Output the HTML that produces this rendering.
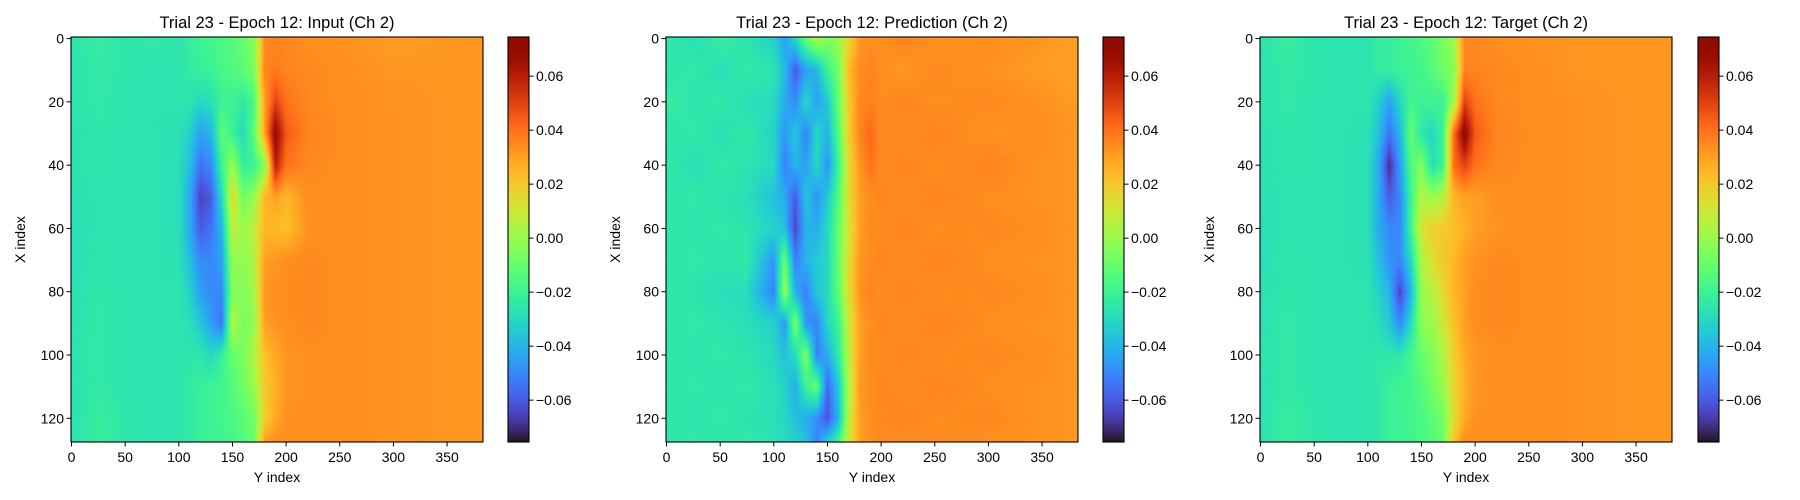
<!DOCTYPE html>
<html><head><meta charset="utf-8">
<style>
html,body{margin:0;padding:0;background:#fff;}
#wrap{position:relative;width:1800px;height:500px;overflow:hidden;font-family:"Liberation Sans","DejaVu Sans",sans-serif;}
canvas{position:absolute;}
svg{position:absolute;left:0;top:0;}
</style></head>
<body>
<div id="wrap">
<svg id="svg" width="1800" height="500"></svg>
</div>
<script>
// ---- data ----
const yCols = [0,25,50,75,100,110,120,130,140,150,160,170,180,190,200,220,250,300,350,383];
const xRows = [0,10,20,30,40,50,60,70,80,90,100,110,120,127];
const panelTitles = ["Trial 23 - Epoch 12: Input (Ch 2)","Trial 23 - Epoch 12: Prediction (Ch 2)","Trial 23 - Epoch 12: Target (Ch 2)"];
const xTicks = [0,50,100,150,200,250,300,350];
const yTicks = [0,20,40,60,80,100,120];
const cbTicks = [-0.06,-0.04,-0.02,0.00,0.02,0.04,0.06];
const cbTickLabels = ["\u22120.06","\u22120.04","\u22120.02","0.00","0.02","0.04","0.06"];
const vmin = -0.0755, vmax = 0.0745;
const inputGrid = [
[-.026,-.022,-.026,-.024,-.026,-.022,-.02,-.018,-.016,-.014,-.01,-.004,.034,.036,.035,.034,.033,.031,.032,.032],
[-.026,-.024,-.025,-.026,-.026,-.023,-.022,-.02,-.017,-.015,-.012,-.006,.036,.038,.036,.035,.034,.032,.032,.032],
[-.026,-.024,-.026,-.026,-.026,-.026,-.03,-.028,-.02,-.02,-.024,-.016,.03,.05,.04,.035,.034,.033,.032,.032],
[-.027,-.025,-.026,-.026,-.027,-.032,-.045,-.04,-.012,-.02,-.03,-.012,.03,.07,.045,.036,.034,.033,.032,.032],
[-.027,-.025,-.026,-.026,-.028,-.037,-.055,-.05,-.02,0,-.022,-.02,-.005,.06,.04,.035,.034,.033,.032,.032],
[-.027,-.026,-.026,-.026,-.028,-.042,-.065,-.06,-.03,.015,-.008,-.002,.025,.03,.025,.034,.034,.033,.032,.032],
[-.028,-.026,-.026,-.026,-.028,-.042,-.06,-.055,-.04,.008,0,.008,.024,.024,.022,.033,.034,.033,.032,.032],
[-.028,-.025,-.026,-.026,-.027,-.037,-.05,-.05,-.045,0,-.002,.004,.03,.032,.034,.035,.034,.033,.032,.032],
[-.027,-.025,-.026,-.026,-.026,-.032,-.045,-.05,-.05,-.004,-.004,.002,.032,.034,.034,.035,.034,.033,.032,.032],
[-.027,-.024,-.026,-.026,-.026,-.028,-.035,-.045,-.055,.005,-.006,-.002,.03,.033,.034,.035,.034,.033,.032,.032],
[-.026,-.024,-.026,-.026,-.026,-.025,-.025,-.03,-.022,-.01,-.006,.005,.022,.028,.032,.034,.034,.033,.032,.032],
[-.027,-.024,-.026,-.026,-.026,-.024,-.021,-.02,-.018,-.014,-.008,.000,.02,.026,.032,.034,.034,.033,.032,.032],
[-.027,-.022,-.025,-.026,-.026,-.024,-.021,-.02,-.018,-.016,-.012,-.008,.018,.028,.033,.034,.034,.033,.032,.032],
[-.027,-.022,-.025,-.026,-.026,-.024,-.021,-.02,-.019,-.017,-.014,-.01,.03,.034,.034,.034,.034,.033,.032,.032]];
const predGrid = [
[-.024,-.028,-.022,-.026,-.032,-.045,-.03,-.01,.005,-.005,.0,.015,.032,.034,.033,.036,.033,.034,.032,.03],
[-.026,-.024,-.028,-.024,-.026,-.038,-.06,-.045,-.04,-.02,-.008,.025,.034,.036,.034,.032,.035,.033,.031,.03],
[-.022,-.026,-.024,-.028,-.029,-.042,-.05,-.03,-.045,-.035,-.01,.02,.035,.037,.034,.036,.034,.035,.033,.031],
[-.026,-.024,-.028,-.024,-.032,-.047,-.035,-.052,-.03,-.04,-.015,.02,.036,.042,.035,.034,.036,.033,.034,.032],
[-.024,-.028,-.024,-.026,-.03,-.052,-.04,-.045,-.03,-.048,-.02,.015,.032,.04,.034,.036,.034,.036,.033,.032],
[-.026,-.024,-.026,-.028,-.037,-.042,-.06,-.035,-.048,-.035,-.015,.015,.03,.034,.036,.034,.036,.034,.033,.032],
[-.024,-.026,-.024,-.026,-.032,-.037,-.065,-.04,-.042,-.03,-.01,.012,.03,.035,.034,.036,.034,.035,.034,.032],
[-.026,-.024,-.026,-.024,-.047,-.01,-.052,-.04,-.035,-.03,-.01,.014,.032,.034,.036,.034,.036,.034,.033,.032],
[-.024,-.026,-.028,-.029,-.052,.0,-.042,-.052,-.035,-.03,-.012,.015,.033,.036,.034,.036,.034,.035,.034,.032],
[-.026,-.024,-.026,-.028,-.032,-.047,-.005,-.047,-.052,-.03,-.02,.01,.03,.034,.036,.034,.036,.034,.033,.032],
[-.024,-.026,-.024,-.026,-.03,-.037,-.03,-.005,-.052,-.042,-.025,.008,.03,.035,.034,.036,.034,.035,.034,.032],
[-.026,-.024,-.026,-.024,-.028,-.032,-.042,-.02,-.01,-.058,-.035,.005,.032,.034,.036,.034,.036,.034,.033,.032],
[-.024,-.026,-.024,-.026,-.028,-.03,-.037,-.042,-.048,-.062,-.04,.008,.03,.034,.035,.036,.034,.035,.033,.032],
[-.026,-.024,-.026,-.024,-.027,-.03,-.032,-.037,-.052,-.035,-.02,.01,.03,.033,.035,.034,.035,.034,.033,.032]];
const targetGrid = [
[-.026,-.022,-.026,-.026,-.026,-.022,-.022,-.02,-.018,-.015,-.012,-.006,.0,.035,.035,.034,.033,.032,.032,.032],
[-.026,-.024,-.025,-.026,-.026,-.023,-.022,-.02,-.02,-.018,-.014,-.008,-.004,.036,.036,.035,.034,.032,.032,.032],
[-.026,-.024,-.026,-.026,-.026,-.032,-.045,-.03,-.018,-.02,-.02,-.02,.0,.05,.04,.035,.034,.033,.032,.032],
[-.027,-.025,-.026,-.026,-.027,-.037,-.055,-.04,-.01,-.025,-.03,-.02,.04,.072,.045,.036,.034,.033,.032,.032],
[-.027,-.025,-.026,-.026,-.028,-.042,-.07,-.045,-.015,-.005,-.028,-.02,.04,.05,.04,.035,.034,.033,.032,.032],
[-.027,-.026,-.026,-.026,-.028,-.042,-.06,-.05,-.02,.005,.0,.005,.025,.03,.03,.034,.034,.033,.032,.032],
[-.028,-.026,-.026,-.026,-.028,-.042,-.05,-.05,-.02,.012,.018,.02,.022,.026,.03,.033,.034,.033,.032,.032],
[-.028,-.025,-.026,-.026,-.027,-.037,-.048,-.05,-.03,.004,.014,.02,.024,.03,.033,.035,.034,.033,.032,.032],
[-.027,-.025,-.026,-.026,-.026,-.032,-.04,-.065,-.04,.0,.005,.015,.025,.03,.034,.035,.034,.033,.032,.032],
[-.027,-.024,-.026,-.026,-.026,-.028,-.035,-.05,-.03,-.002,.0,.01,.022,.03,.034,.035,.034,.033,.032,.032],
[-.026,-.024,-.026,-.026,-.026,-.025,-.025,-.025,-.018,-.01,-.004,.004,.018,.028,.032,.034,.034,.033,.032,.032],
[-.027,-.024,-.026,-.026,-.026,-.024,-.021,-.02,-.018,-.014,-.008,.000,.016,.026,.032,.034,.034,.033,.032,.032],
[-.027,-.022,-.025,-.026,-.026,-.024,-.021,-.02,-.018,-.016,-.012,-.008,.014,.028,.033,.034,.034,.033,.032,.032],
[-.027,-.022,-.025,-.026,-.026,-.024,-.021,-.02,-.019,-.017,-.014,-.01,.02,.034,.034,.034,.034,.033,.032,.032]];
const grids = [inputGrid, predGrid, targetGrid];
const panelNames = ["input","prediction","target"];

// ---- layout ----
const axLefts = [71, 666, 1260], axW = 412, axTop = 37, axH = 405;
const cbLefts = [508, 1103, 1698], cbW = 21;
const NX = 384, NY = 128;

function turbo(t){
  t=Math.max(0,Math.min(1,t));
  const r=0.13572138+t*(4.61539260+t*(-42.66032258+t*(132.13108234+t*(-152.94239396+t*59.28637943))));
  const g=0.09140261+t*(2.19418839+t*(4.84296658+t*(-14.18503333+t*(4.27729857+t*2.82956604))));
  const b=0.10667330+t*(12.64194608+t*(-60.58204836+t*(110.36276771+t*(-89.90310912+t*27.34824973))));
  return [Math.round(255*Math.max(0,Math.min(1,r))),Math.round(255*Math.max(0,Math.min(1,g))),Math.round(255*Math.max(0,Math.min(1,b)))];
}
function seg(arr,v){let i=0;while(i<arr.length-2&&v>arr[i+1])i++;const f=Math.max(0,Math.min(1,(v-arr[i])/(arr[i+1]-arr[i])));return [i,f];}
function sample(grid,xi,yi){
  const [r,fr]=seg(xRows,xi), [c,fc]=seg(yCols,yi);
  const a=grid[r][c],b=grid[r][c+1],d=grid[r+1][c],e=grid[r+1][c+1];
  return (a*(1-fc)+b*fc)*(1-fr)+(d*(1-fc)+e*fc)*fr;
}
const wrap=document.getElementById('wrap');
const svg=document.getElementById('svg');
const NS="http://www.w3.org/2000/svg";
function mk(tag,attrs,parent){const e=document.createElementNS(NS,tag);for(const k in attrs)e.setAttribute(k,attrs[k]);(parent||svg).appendChild(e);return e;}
function txt(s,attrs,parent){const e=mk('text',Object.assign({'font-family':'"Liberation Sans","DejaVu Sans",sans-serif','font-size':'14','fill':'#000'},attrs),parent);e.textContent=s;return e;}
const xPx=(L,v)=>L+(v+0.5)/NX*axW;
const yPx=v=>axTop+(v+0.5)/NY*axH;
const cbY=v=>axTop+(vmax-v)/(vmax-vmin)*axH;

for(let p=0;p<3;p++){
  const L=axLefts[p], grid=grids[p];
  const cv=document.createElement('canvas');
  cv.width=axW;cv.height=axH;
  cv.style.left=L+'px';cv.style.top=axTop+'px';
  
  
  wrap.insertBefore(cv,svg);
  const ctx=cv.getContext('2d');const img=ctx.createImageData(axW,axH);
  for(let py=0;py<axH;py++){const xi=(py+0.5)/axH*NY-0.5;
    for(let px=0;px<axW;px++){const yi=(px+0.5)/axW*NX-0.5;
      const v=sample(grid,xi,yi);const c=turbo((v-vmin)/(vmax-vmin));
      const o=(py*axW+px)*4;img.data[o]=c[0];img.data[o+1]=c[1];img.data[o+2]=c[2];img.data[o+3]=255;}}
  ctx.putImageData(img,0,0);
  const cb=document.createElement('canvas');cb.width=cbW;cb.height=axH;
  cb.style.left=cbLefts[p]+'px';cb.style.top=axTop+'px';
  
  
  wrap.insertBefore(cb,svg);
  const c2=cb.getContext('2d');
  for(let py=0;py<axH;py++){const c=turbo(1-(py+0.5)/axH);c2.fillStyle=`rgb(${c[0]},${c[1]},${c[2]})`;c2.fillRect(0,py,cbW,1);}

  const g=mk('g',{});
  
  
  mk('rect',{x:L,y:axTop,width:axW,height:axH,fill:'none',stroke:'#000','stroke-width':1.1},g);
  mk('rect',{x:cbLefts[p],y:axTop,width:cbW,height:axH,fill:'none',stroke:'#000','stroke-width':1.1},g);
  const t=txt(panelTitles[p],{x:L+axW/2,y:axTop-9,'text-anchor':'middle','font-size':'16.5'},g);
  
  
  xTicks.forEach(v=>{const x=xPx(L,v);mk('line',{x1:x,x2:x,y1:axTop+axH,y2:axTop+axH+4.5,stroke:'#000','stroke-width':1},g);
    txt(String(v),{x:x,y:axTop+axH+20,'text-anchor':'middle'},g);});
  yTicks.forEach(v=>{const y=yPx(v);mk('line',{x1:L-4.5,x2:L,y1:y,y2:y,stroke:'#000','stroke-width':1},g);
    txt(String(v),{x:L-7,y:y+5,'text-anchor':'end'},g);});
  const xl=txt('Y index',{x:L+axW/2,y:axTop+axH+40,'text-anchor':'middle'},g);
  
  
  const yl=txt('X index',{x:0,y:0,'text-anchor':'middle',transform:`translate(${L-46},${axTop+axH/2}) rotate(-90)`},g);
  
  
  cbTicks.forEach((v,i)=>{const y=cbY(v);const R=cbLefts[p]+cbW;
    mk('line',{x1:R,x2:R+4.5,y1:y,y2:y,stroke:'#000','stroke-width':1},g);
    txt(cbTickLabels[i],{x:R+7,y:y+5},g);});
}
</script>
</body></html>
